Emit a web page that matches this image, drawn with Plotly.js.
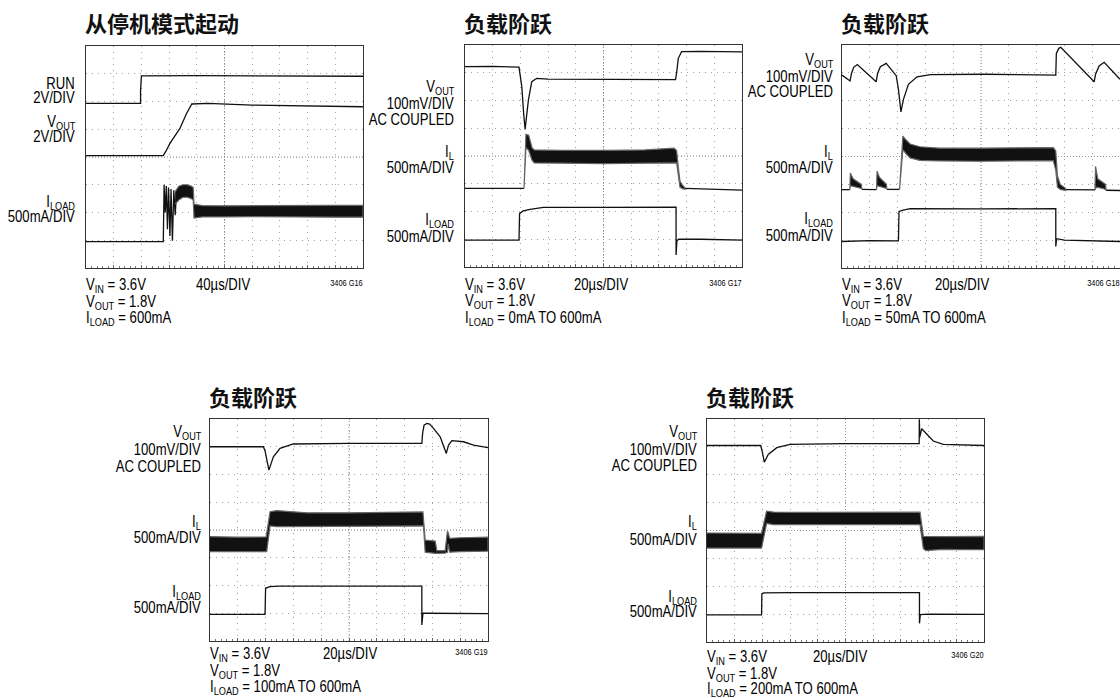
<!DOCTYPE html>
<html>
<head>
<meta charset="utf-8">
<script src="https://cdn.plot.ly/plotly-3.0.1.min.js"></script>
<style>html,body{margin:0;padding:0;background:#fff;}#chart{width:1120px;height:698px;}</style>
</head>
<body>
<div id="chart"></div>
<script>
// ---------- DATA (all values in scope divisions: x 0..10, y 0..8) ----------
// Panel 1: start-up from shutdown
const p1RunX = [0, 1.97, 1.97, 2.0, 4, 7, 10];
const p1RunY = [5.93, 5.93, 6.4, 6.92, 6.93, 6.92, 6.91];
const p1VoutX = [0, 2.79, 2.88, 3.03, 3.39, 3.63, 3.82, 4.4, 6, 8, 10];
const p1VoutY = [4.05, 4.05, 4.2, 4.49, 5.03, 5.57, 5.91, 5.93, 5.87, 5.83, 5.81];
const p1LoadX = [0, 2.79, 2.82, 2.86, 2.9, 2.94, 2.98, 3.03, 3.07, 3.12, 3.17, 3.22, 3.27];
const p1LoadY = [0.95, 0.95, 3.0, 2.0, 2.95, 1.4, 2.9, 1.15, 2.85, 0.98, 2.8, 1.9, 2.75];
const p1BandUpX = [3.22, 3.35, 3.5, 3.65, 3.8, 3.87, 3.9, 4.2, 5, 6, 7, 8, 9, 10];
const p1BandUpY = [2.75, 2.95, 3.0, 3.0, 2.95, 2.9, 2.3, 2.25, 2.24, 2.25, 2.24, 2.25, 2.26, 2.26];
const p1BandLoX = [10, 9, 8, 7, 6, 5, 4.2, 3.9, 3.87, 3.8, 3.65, 3.5, 3.35, 3.22];
const p1BandLoY = [1.83, 1.83, 1.84, 1.84, 1.85, 1.84, 1.84, 1.8, 2.45, 2.5, 2.55, 2.55, 2.45, 2.3];

// Panel 2: load step 0mA to 600mA
const p2VoutX = [0, 1, 1.95, 2.05, 2.12, 2.17, 2.23, 2.29, 2.41, 2.59, 3, 5, 7.6, 7.64, 7.7, 7.82, 8.5, 10];
const p2VoutY = [7.22, 7.23, 7.2, 6.5, 5.5, 4.96, 5.5, 6.02, 6.68, 6.8, 6.77, 6.76, 6.75, 7.0, 7.52, 7.76, 7.77, 7.75];
const p2IlX = [0, 1, 2.13, null, 7.94, 9, 10];
const p2IlY = [2.83, 2.84, 2.83, null, 2.83, 2.8, 2.77];
const p2BandUpX = [2.13, 2.2, 2.3, 2.42, 2.5, 3.5, 5, 6.5, 7.55, 7.64, 7.7, 7.76, 7.85, 7.94];
const p2BandUpY = [2.83, 4.78, 4.75, 4.3, 4.22, 4.2, 4.2, 4.22, 4.28, 4.2, 3.6, 3.1, 2.95, 2.86];
const p2BandLoX = [7.94, 7.85, 7.76, 7.7, 7.64, 6.5, 5, 3.5, 2.5, 2.42, 2.3, 2.2, 2.13];
const p2BandLoY = [2.8, 2.82, 2.88, 3.3, 3.75, 3.74, 3.72, 3.74, 3.75, 3.85, 4.2, 4.3, 2.83];
const p2LoadX = [0, 1, 1.95, 1.97, 2.1, 2.35, 2.83, 5, 7.62, 7.62, 7.65, 7.72, 8.5, 10];
const p2LoadY = [0.97, 0.98, 0.97, 1.93, 2.02, 2.08, 2.15, 2.15, 2.16, 0.43, 0.95, 1.0, 1.0, 0.97];

// Panel 3: load step 50mA to 600mA
const p3VoutX = [0, 0.29, 0.34, 0.42, 0.55, 1.23, 1.28, 1.38, 1.59, 1.95, 2.03, 2.12, 2.21, 2.39, 2.7, 3.18, 5.1, 7.69, 7.71, 7.8, 7.87, 9.07, 9.12, 9.25, 9.43, 10];
const p3VoutY = [6.92, 6.71, 6.98, 7.2, 7.3, 6.68, 6.98, 7.22, 7.34, 6.9, 6.41, 5.6, 6.05, 6.59, 6.86, 6.94, 6.95, 6.92, 7.7, 7.88, 7.92, 6.68, 6.95, 7.25, 7.38, 6.77];
const p3IlX = [0, 0.28, null, 0.71, 1.24, null, 1.61, 2.07, null, 8.05, 9.1, null, 9.5, 10];
const p3IlY = [2.81, 2.81, null, 2.82, 2.81, null, 2.82, 2.82, null, 2.81, 2.8, null, 2.79, 2.78];
const p3Spike1X = [0.28, 0.3, 0.4, 0.55, 0.7, 0.71, 0.6, 0.45, 0.3, 0.28];
const p3Spike1Y = [2.81, 3.41, 3.2, 3.1, 3.0, 2.85, 2.88, 2.9, 2.95, 2.81];
const p3Spike2X = [1.24, 1.26, 1.35, 1.5, 1.6, 1.61, 1.5, 1.35, 1.26, 1.24];
const p3Spike2Y = [2.81, 3.47, 3.25, 3.1, 3.0, 2.85, 2.88, 2.9, 2.95, 2.81];
const p3Spike3X = [9.1, 9.12, 9.2, 9.35, 9.48, 9.5, 9.4, 9.25, 9.15, 9.1];
const p3Spike3Y = [2.8, 3.65, 3.2, 3.1, 3.0, 2.8, 2.85, 2.88, 2.9, 2.8];
const p3BandUpX = [2.07, 2.19, 2.3, 2.45, 2.8, 3.5, 5, 6.5, 7.6, 7.69, 7.75, 7.85, 8.05];
const p3BandUpY = [2.82, 4.73, 4.6, 4.45, 4.35, 4.3, 4.3, 4.3, 4.32, 4.2, 3.3, 3.0, 2.85];
const p3BandLoX = [8.05, 7.85, 7.75, 7.69, 7.6, 6.5, 5, 3.5, 2.8, 2.45, 2.3, 2.19, 2.07];
const p3BandLoY = [2.78, 2.82, 2.9, 3.5, 3.85, 3.84, 3.83, 3.84, 3.86, 3.95, 4.1, 4.25, 2.82];
const p3LoadX = [0, 1, 2.03, 2.05, 2.2, 2.45, 5, 7.69, 7.69, 7.72, 8, 9, 10];
const p3LoadY = [0.95, 0.98, 0.97, 2.03, 2.08, 2.13, 2.12, 2.13, 0.77, 1.05, 1.0, 0.98, 0.95];

// Panel 4: load step 100mA to 600mA
const p4VoutX = [0, 1.92, 1.98, 2.05, 2.12, 2.2, 2.28, 2.52, 3.0, 5, 7.62, 7.65, 7.7, 7.8, 7.9, 8.04, 8.28, 8.5, 8.58, 8.7, 9.12, 9.48, 10];
const p4VoutY = [7.0, 7.0, 6.85, 6.5, 6.16, 6.4, 6.64, 6.94, 7.1, 7.12, 7.12, 7.5, 7.78, 7.84, 7.82, 7.66, 7.36, 6.76, 7.06, 7.22, 7.18, 7.06, 6.97];
const p4BandUpX = [0, 1, 2.02, 2.16, 2.4, 3.5, 5, 6.5, 7.66, 7.74, 8.1, 8.16, 8.46, 8.54, 8.57, 8.62, 9, 10];
const p4BandUpY = [3.76, 3.74, 3.75, 4.66, 4.7, 4.62, 4.62, 4.63, 4.65, 3.64, 3.6, 3.26, 3.26, 3.96, 3.9, 3.7, 3.72, 3.74];
const p4BandLoX = [10, 9, 8.62, 8.57, 8.54, 8.46, 8.16, 8.1, 7.74, 7.68, 6.5, 5, 3.5, 2.4, 2.16, 2.04, 1, 0];
const p4BandLoY = [3.24, 3.22, 3.2, 3.5, 3.2, 3.17, 3.17, 3.16, 3.2, 4.15, 4.14, 4.13, 4.13, 4.12, 4.15, 3.22, 3.22, 3.22];
const p4LoadX = [0, 1.98, 2.0, 2.15, 2.5, 5, 7.62, 7.62, 7.66, 7.8, 10];
const p4LoadY = [0.96, 0.96, 1.9, 1.96, 1.98, 1.99, 1.98, 0.58, 1.0, 1.0, 0.99];

// Panel 5: load step 200mA to 600mA
const p5VoutX = [0, 1.94, 2.0, 2.07, 2.21, 2.52, 3.0, 5, 7.66, 7.665, 7.68, 7.75, 7.93, 8.17, 8.53, 10];
const p5VoutY = [7.05, 7.05, 6.8, 6.45, 6.73, 6.97, 7.09, 7.12, 7.12, 7.99, 7.35, 7.65, 7.45, 7.21, 7.09, 7.05];
const p5BandUpX = [0, 1, 1.97, 2.15, 2.4, 3.5, 5, 6.5, 7.69, 7.81, 8.5, 10];
const p5BandUpY = [3.91, 3.9, 3.9, 4.69, 4.66, 4.65, 4.66, 4.66, 4.66, 3.79, 3.78, 3.79];
const p5BandLoX = [10, 8.5, 7.9, 7.81, 7.69, 6.5, 5, 3.5, 2.4, 2.15, 1.97, 1, 0];
const p5BandLoY = [3.31, 3.32, 3.28, 3.35, 4.21, 4.21, 4.22, 4.21, 4.21, 4.25, 3.37, 3.37, 3.37];
const p5LoadX = [0, 1.97, 1.98, 2.05, 3, 5, 7.67, 7.67, 7.7, 8, 10];
const p5LoadY = [0.97, 0.97, 1.73, 1.76, 1.77, 1.78, 1.77, 0.67, 0.98, 1.0, 0.99];

// Text
const titles = ['从停机模式起动', '负载阶跃', '负载阶跃', '负载阶跃', '负载阶跃'];
const timeBases = ['40µs/DIV', '20µs/DIV', '20µs/DIV', '20µs/DIV', '20µs/DIV'];
const figIds = ['3406 G16', '3406 G17', '3406 G18', '3406 G19', '3406 G20'];
const loadConds = ['I<sub>LOAD</sub> = 600mA', 'I<sub>LOAD</sub> = 0mA TO 600mA', 'I<sub>LOAD</sub> = 50mA TO 600mA',
                   'I<sub>LOAD</sub> = 100mA TO 600mA', 'I<sub>LOAD</sub> = 200mA TO 600mA'];
const vinText = 'V<sub>IN</sub> = 3.6V';
const voutText = 'V<sub>OUT</sub> = 1.8V';

// ---------- LAYOUT ----------
const W = 1120, H = 698;
const NARROW = '"Liberation Sans", Arial, sans-serif';
const CJK = '"Noto Sans CJK SC", "Noto Sans CJK JP", sans-serif';
const SQUEEZE = 0.82;   // horizontal condensing of the label font
// plot boxes in pixels
const boxes = [
  {x0: 86, x1: 363, y0: 46, y1: 268},
  {x0: 465, x1: 742, y0: 45, y1: 267},
  {x0: 842, x1: 1120, y0: 45, y1: 268},
  {x0: 210, x1: 488, y0: 419, y1: 641},
  {x0: 707, x1: 984, y0: 419, y1: 642}
];
// label lines: [text, baseline px]; right edge px
const leftLabels = [
  {right: 75, lines: [['RUN', 89], ['2V/DIV', 103], ['V<sub>OUT</sub>', 127.5], ['2V/DIV', 142], ['I<sub>LOAD</sub>', 207.5], ['500mA/DIV', 222]]},
  {right: 454, lines: [['V<sub>OUT</sub>', 92.5], ['100mV/DIV', 109], ['AC COUPLED', 125], ['I<sub>L</sub>', 157.5], ['500mA/DIV', 173], ['I<sub>LOAD</sub>', 225], ['500mA/DIV', 242]]},
  {right: 833, lines: [['V<sub>OUT</sub>', 65.5], ['100mV/DIV', 82], ['AC COUPLED', 97], ['I<sub>L</sub>', 157.5], ['500mA/DIV', 173], ['I<sub>LOAD</sub>', 224.5], ['500mA/DIV', 241]]},
  {right: 201, lines: [['V<sub>OUT</sub>', 437.5], ['100mV/DIV', 455], ['AC COUPLED', 472], ['I<sub>L</sub>', 527.5], ['500mA/DIV', 543], ['I<sub>LOAD</sub>', 597], ['500mA/DIV', 613]]},
  {right: 697, lines: [['V<sub>OUT</sub>', 437.5], ['100mV/DIV', 455], ['AC COUPLED', 471], ['I<sub>L</sub>', 527.5], ['500mA/DIV', 545], ['I<sub>LOAD</sub>', 602], ['500mA/DIV', 617]]}
];
const bottomBase = [[290.5, 307, 323.5], [290, 306.5, 323], [290, 306.5, 323], [659, 676, 692], [662, 679, 694]];
const timeX = [196, 574, 935, 323, 813];
const titleY = [22.5, 22.5, 22.5, 396, 396];

function px(x) { return x / W; }
function py(y) { return 1 - y / H; }

const annotations = [];
const squeezeFlags = [];
function textAt(text, x, base, anchor, size, family, color, weight) {
  let c = base - 0.35 * size;
  if (text.indexOf('<sub>') >= 0) c += 0.7;
  annotations.push({xref: 'paper', yref: 'paper', x: px(x), y: py(c), xanchor: anchor, yanchor: 'middle',
    align: anchor, text: text, showarrow: false, borderpad: 0, borderwidth: 0,
    font: {family: family || NARROW, size: size, color: color || '#000', weight: weight || 'normal'}});
  squeezeFlags.push(!family);
}

const layout = {
  width: W, height: H, margin: {l: 0, r: 0, t: 0, b: 0},
  paper_bgcolor: '#fff', plot_bgcolor: '#fff', showlegend: false,
  annotations: annotations, shapes: []
};

boxes.forEach((b, i) => {
  const s = i === 0 ? '' : String(i + 1);
  layout['xaxis' + s] = {
    domain: [px(b.x0), px(b.x1)], range: [0, 10], anchor: 'y' + s,
    showgrid: true, dtick: 1, tick0: 0, gridcolor: '#a0a0a0', gridwidth: 1, griddash: '1px,5px',
    showticklabels: false, zeroline: false, showline: true, mirror: true, linecolor: '#333', linewidth: 1,
    ticks: 'inside', ticklen: 3, tickcolor: '#666',
    minor: {dtick: 0.2, ticks: 'inside', ticklen: 2, tickcolor: '#777', showgrid: false},
    fixedrange: true
  };
  layout['yaxis' + s] = {
    domain: [py(b.y1), py(b.y0)], range: [0, 8], anchor: 'x' + s,
    showgrid: true, dtick: 1, tick0: 0, gridcolor: '#a0a0a0', gridwidth: 1, griddash: '1px,5px',
    showticklabels: false, zeroline: false, showline: true, mirror: i !== 2, linecolor: '#333', linewidth: 1,
    ticks: '', fixedrange: true
  };
  // centre graticule lines
  layout.shapes.push({type: 'line', xref: 'x' + s, yref: 'y' + s, x0: 5, x1: 5, y0: 0, y1: 8,
    line: {color: '#888', width: 1, dash: '1px,2px'}, layer: 'below'});
  layout.shapes.push({type: 'line', xref: 'x' + s, yref: 'y' + s, x0: 0, x1: 10, y0: 4, y1: 4,
    line: {color: '#888', width: 1, dash: '1px,2px'}, layer: 'below'});

  // title
  textAt(titles[i], b.x0 - 1, titleY[i] + 7.7, 'left', 22, CJK, '#111', 'bold');
  // left labels
  leftLabels[i].lines.forEach(l => textAt(l[0], leftLabels[i].right, l[1], 'right', 16));
  // bottom conditions
  textAt(vinText, b.x0, bottomBase[i][0], 'left', 16);
  textAt(voutText, b.x0, bottomBase[i][1], 'left', 16);
  textAt(loadConds[i], b.x0, bottomBase[i][2], 'left', 16);
  textAt(timeBases[i], timeX[i], bottomBase[i][0], 'left', 16);
  textAt(figIds[i], b.x1, bottomBase[i][0] - 4, 'right', 9);
});

// ---------- TRACES ----------
const traces = [];
function line(x, y, ax) {
  traces.push({type: 'scatter', mode: 'lines', x: x, y: y, xaxis: 'x' + ax, yaxis: 'y' + ax,
    line: {color: '#111', width: 1.3}, connectgaps: false, hoverinfo: 'skip'});
}
function band(ux, uy, lx, ly, ax) {
  traces.push({type: 'scatter', mode: 'lines', x: ux.concat(lx), y: uy.concat(ly), xaxis: 'x' + ax, yaxis: 'y' + ax,
    fill: 'toself', fillcolor: '#111', line: {color: '#666', width: 1.2}, hoverinfo: 'skip'});
}

line(p1RunX, p1RunY, '');
line(p1VoutX, p1VoutY, '');
line(p1LoadX, p1LoadY, '');
band(p1BandUpX, p1BandUpY, p1BandLoX, p1BandLoY, '');

line(p2VoutX, p2VoutY, '2');
line(p2IlX, p2IlY, '2');
band(p2BandUpX, p2BandUpY, p2BandLoX, p2BandLoY, '2');
line(p2LoadX, p2LoadY, '2');

line(p3VoutX, p3VoutY, '3');
line(p3IlX, p3IlY, '3');
band(p3Spike1X, p3Spike1Y, [], [], '3');
band(p3Spike2X, p3Spike2Y, [], [], '3');
band(p3Spike3X, p3Spike3Y, [], [], '3');
band(p3BandUpX, p3BandUpY, p3BandLoX, p3BandLoY, '3');
line(p3LoadX, p3LoadY, '3');

line(p4VoutX, p4VoutY, '4');
band(p4BandUpX, p4BandUpY, p4BandLoX, p4BandLoY, '4');
line(p4LoadX, p4LoadY, '4');

line(p5VoutX, p5VoutY, '5');
band(p5BandUpX, p5BandUpY, p5BandLoX, p5BandLoY, '5');
line(p5LoadX, p5LoadY, '5');

Plotly.newPlot('chart', traces, layout, {staticPlot: true, displayModeBar: false}).then(gd => {
  // condense the label font horizontally (the reference uses a condensed face)
  gd.querySelectorAll('.annotation').forEach(g => {
    const idx = +g.getAttribute('data-index');
    if (!squeezeFlags[idx]) return;
    const t = g.querySelector('text.annotation-text');
    if (!t) return;
    const a = annotations[idx];
    t.style.transformBox = 'fill-box';
    t.style.transformOrigin = (a.xanchor === 'right' ? 'right' : 'left') + ' center';
    t.style.transform = 'scaleX(' + SQUEEZE + ')';
  });
});
</script>
</body>
</html>
